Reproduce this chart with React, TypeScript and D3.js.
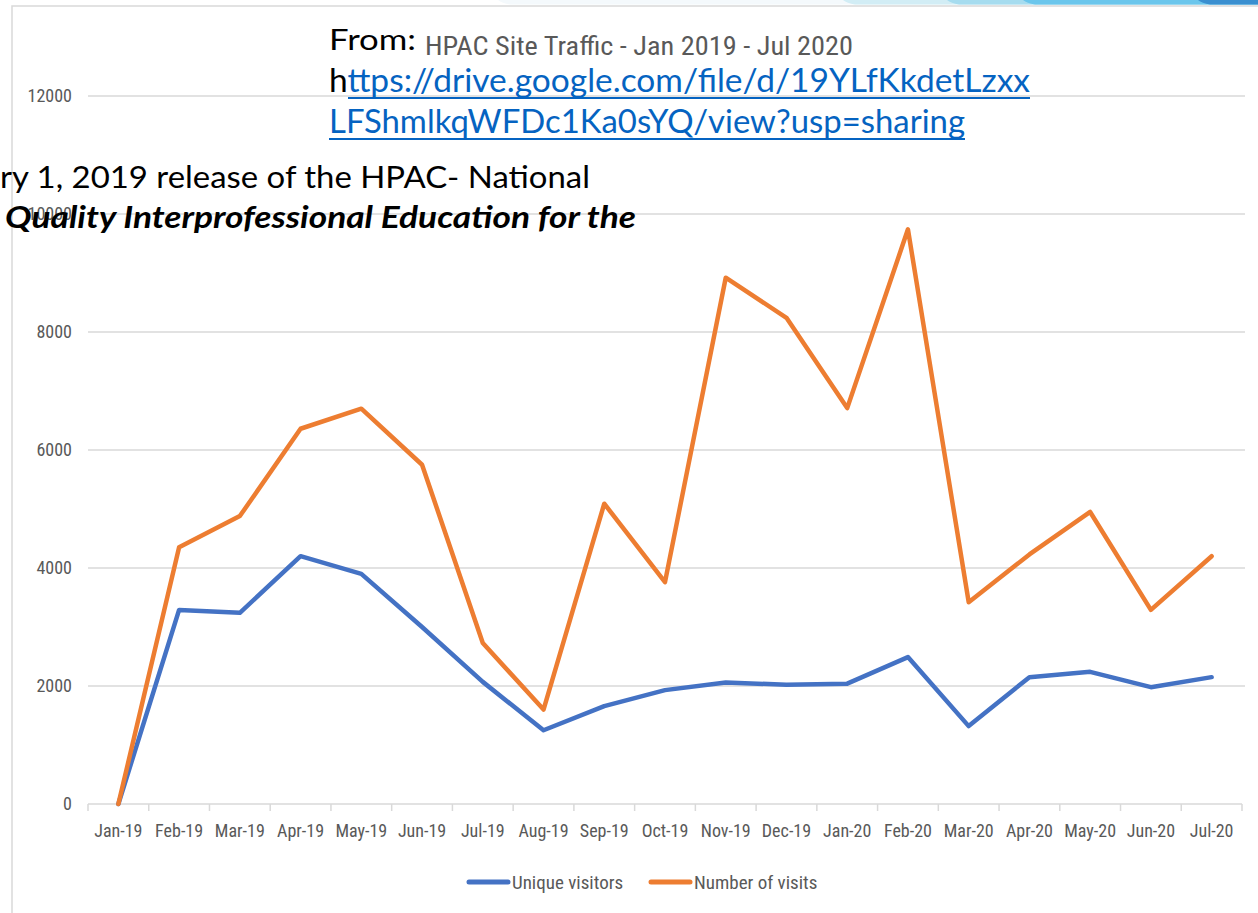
import React, { useEffect, useRef } from 'react';
import * as d3 from 'd3';

const months = [
  'Jan-19', 'Feb-19', 'Mar-19', 'Apr-19', 'May-19', 'Jun-19', 'Jul-19', 'Aug-19', 'Sep-19', 'Oct-19',
  'Nov-19', 'Dec-19', 'Jan-20', 'Feb-20', 'Mar-20', 'Apr-20', 'May-20', 'Jun-20', 'Jul-20',
];
const uniqueVisitors = [
  0, 3290, 3240, 4200, 3900, 3000, 2070, 1250, 1660, 1930,
  2060, 2020, 2040, 2490, 1320, 2150, 2240, 1980, 2150,
];
const numberOfVisits = [
  0, 4350, 4880, 6360, 6700, 5750, 2730, 1600, 5090, 3760,
  8920, 8240, 6710, 9740, 3420, 4230, 4950, 3290, 4200,
];
const yTicks = [0, 2000, 4000, 6000, 8000, 10000, 12000];
const seriesNames = ['Unique visitors', 'Number of visits'];

const BLUE = '#4472C4';
const ORANGE = '#ED7D31';
const GRID = '#d9d9d9';
const TEXT_GRAY = '#595959';
const LINK = '#0563C1';
const tickFont = "'Roboto Condensed', 'Liberation Sans Narrow', Roboto, sans-serif";

const W = 1258;
const H = 913;

const TrafficChart: React.FC = () => {
  const svgRef = useRef<SVGSVGElement>(null);

  useEffect(() => {
    if (!svgRef.current) return;
    const svg = d3.select(svgRef.current);
    svg.selectAll('*').remove();

    svg.append('rect').attr('width', W).attr('height', H).attr('fill', '#fff');

    // slide header strip
    const strip = [
      { x0: 498, x1: 650, c: '#f4f9fc' },
      { x0: 843, x1: 947, c: '#d2edf5' },
      { x0: 947, x1: 1023, c: '#a6dcef' },
      { x0: 1023, x1: 1198, c: '#6bc6ec' },
      { x0: 1198, x1: 1258, c: '#3a8fd0' },
    ];
    svg.append('g').selectAll('path').data(strip).enter().append('path')
      .attr('d', (d) => `M${d.x0},0 L${W},0 L${W},4.5 L${d.x0 + 12},4.5 Q${d.x0 + 4},3 ${d.x0},0 Z`)
      .attr('fill', (d) => d.c);

    // chart frame
    svg.append('path')
      .attr('d', `M12,${H} L12,6 L${W},6`)
      .attr('fill', 'none')
      .attr('stroke', GRID)
      .attr('stroke-width', 1.5);

    const x = d3.scaleBand<string>().domain(months).range([88, 1242]);
    const y = d3.scaleLinear().domain([0, 12000]).range([804, 96]);
    const cx = (m: string) => (x(m) || 0) + x.bandwidth() / 2;

    // gridlines
    svg.append('g').selectAll('line').data(yTicks.filter((t) => t > 0)).enter().append('line')
      .attr('x1', 88).attr('x2', 1245)
      .attr('y1', (d) => y(d)).attr('y2', (d) => y(d))
      .attr('stroke', GRID).attr('stroke-width', 1.5);

    // y tick labels
    svg.append('g').selectAll('text').data(yTicks).enter().append('text')
      .attr('x', 72).attr('y', (d) => y(d))
      .attr('dy', '0.35em')
      .attr('text-anchor', 'end')
      .attr('font-family', tickFont)
      .attr('font-size', 18)
      .attr('fill', TEXT_GRAY)
      .text((d) => d);

    // x axis
    const xAxis = svg.append('g').attr('transform', `translate(0,${y(0)})`)
      .call(d3.axisBottom(x).tickSize(0).tickPadding(20));
    xAxis.select('.domain').attr('stroke', GRID).attr('stroke-width', 1.5).attr('d', 'M88,0H1242');
    xAxis.selectAll('text')
      .attr('font-family', tickFont)
      .attr('font-size', 18)
      .attr('fill', TEXT_GRAY);
    const bounds = months.map((m) => x(m) || 0).concat([x.range()[1]]);
    xAxis.append('g').selectAll('line').data(bounds).enter().append('line')
      .attr('x1', (d) => d).attr('x2', (d) => d)
      .attr('y1', 0).attr('y2', 7)
      .attr('stroke', GRID).attr('stroke-width', 1.5);

    // lines
    const series = [
      { name: seriesNames[0], values: uniqueVisitors, color: BLUE },
      { name: seriesNames[1], values: numberOfVisits, color: ORANGE },
    ];
    const line = d3.line<number>()
      .x((_, i) => cx(months[i]))
      .y((d) => y(d));
    svg.append('g').selectAll('path').data(series).enter().append('path')
      .attr('d', (d) => line(d.values))
      .attr('fill', 'none')
      .attr('stroke', (d) => d.color)
      .attr('stroke-width', 4.5)
      .attr('stroke-linejoin', 'round')
      .attr('stroke-linecap', 'round');

    // legend
    const legendX = [467, 649];
    const lg = svg.append('g').selectAll('g').data(series).enter().append('g')
      .attr('transform', (_, i) => `translate(${legendX[i]},882)`);
    lg.append('line')
      .attr('x1', 2).attr('x2', 41).attr('y1', 0).attr('y2', 0)
      .attr('stroke', (d) => d.color).attr('stroke-width', 5).attr('stroke-linecap', 'round');
    lg.append('text')
      .attr('x', 45).attr('dy', '0.35em')
      .attr('font-family', tickFont)
      .attr('font-size', 19)
      .attr('fill', TEXT_GRAY)
      .text((d) => d.name);

    // pasted slide text on top
    const ov = svg.append('g').attr('font-family', "Lato, 'Open Sans', sans-serif");
    ov.append('text').attr('x', 329).attr('y', 50).attr('font-size', 29).attr('fill', '#000')
      .attr('textLength', 87).attr('lengthAdjust', 'spacingAndGlyphs').text('From:');
    ov.append('text').attr('x', 425).attr('y', 55).attr('font-size', 26).attr('fill', TEXT_GRAY)
      .attr('font-family', tickFont)
      .attr('textLength', 428).attr('lengthAdjust', 'spacingAndGlyphs')
      .text('HPAC Site Traffic - Jan 2019 - Jul 2020');
    const l2 = ov.append('text').attr('x', 329).attr('y', 92).attr('font-size', 32)
      .attr('textLength', 701).attr('lengthAdjust', 'spacingAndGlyphs');
    l2.append('tspan').attr('fill', '#000').text('h');
    l2.append('tspan').attr('fill', LINK).text('ttps://drive.google.com/file/d/19YLfKkdetLzxx');
    ov.append('line').attr('x1', 348).attr('x2', 1030).attr('y1', 98).attr('y2', 98)
      .attr('stroke', LINK).attr('stroke-width', 2);
    ov.append('text').attr('x', 329).attr('y', 133).attr('font-size', 32).attr('fill', LINK)
      .attr('textLength', 636).attr('lengthAdjust', 'spacingAndGlyphs')
      .text('LFShmlkqWFDc1Ka0sYQ/view?usp=sharing');
    ov.append('line').attr('x1', 329).attr('x2', 965).attr('y1', 139).attr('y2', 139)
      .attr('stroke', LINK).attr('stroke-width', 2);
    ov.append('text').attr('x', 0).attr('y', 188).attr('font-size', 30).attr('fill', '#000')
      .attr('textLength', 590).attr('lengthAdjust', 'spacingAndGlyphs')
      .text('ry 1, 2019 release of the HPAC- National');
    ov.append('text').attr('x', 5).attr('y', 228).attr('font-size', 30).attr('fill', '#000')
      .attr('font-weight', 'bold').attr('font-style', 'italic')
      .attr('textLength', 631).attr('lengthAdjust', 'spacingAndGlyphs')
      .text('Quality Interprofessional Education for the');
  }, []);

  return (
    <svg
      ref={svgRef}
      width={W}
      height={H}
      style={{ position: 'absolute', left: 0, top: 0 }}
      role="img"
      aria-label="HPAC site traffic line chart"
    />
  );
};

export default function App() {
  return <TrafficChart />;
}
